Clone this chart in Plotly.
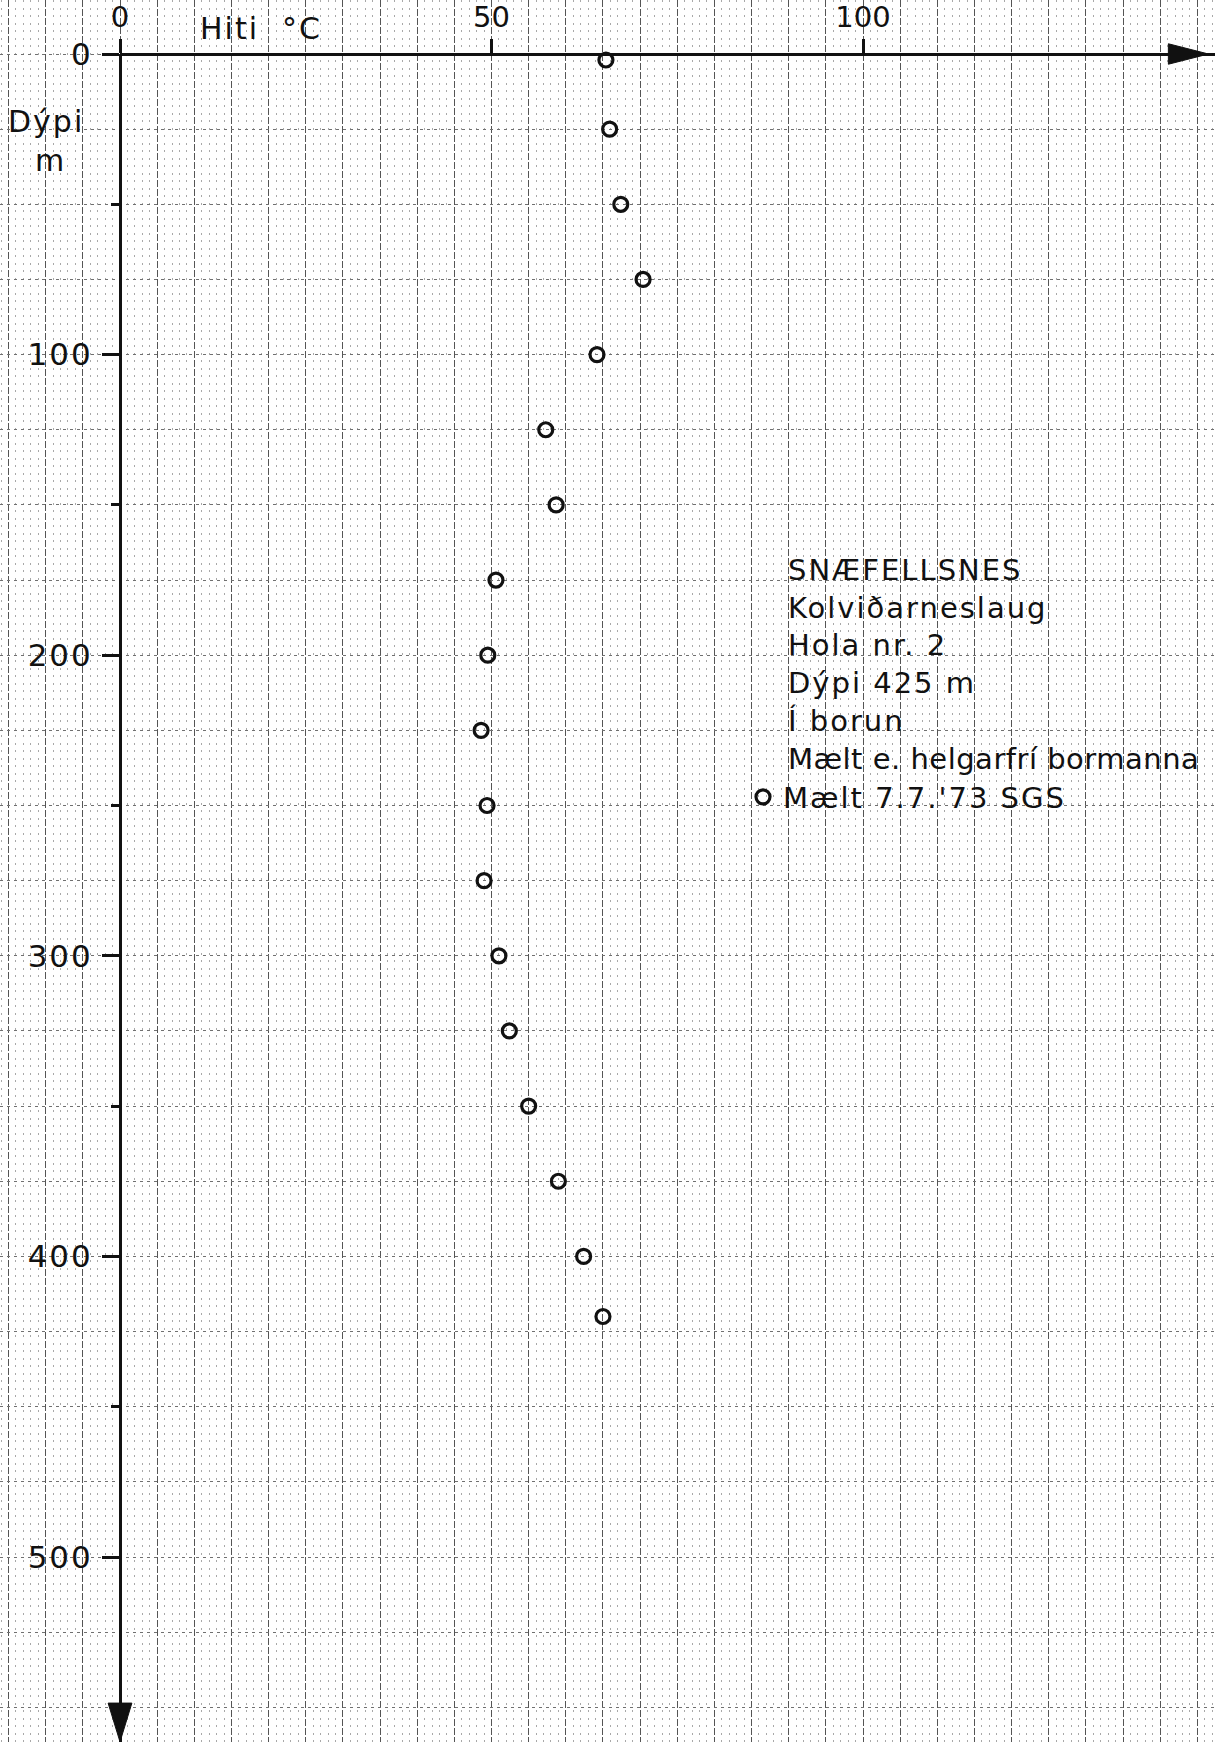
import plotly.graph_objects as go

# ---- data ----
depth_m = [2, 25, 50, 75, 100, 125, 150, 175, 200, 225, 250, 275, 300, 325, 350, 375, 400, 420]
temp_c = [65.4, 65.9, 67.4, 70.4, 64.2, 57.3, 58.7, 50.6, 49.5, 48.6, 49.4, 49.0,
          51.0, 52.4, 55.0, 59.0, 62.4, 65.0]
x_tick_vals = [0, 50, 100]
x_tick_text = ["0", "50", "100"]
y_tick_vals = [0, 100, 200, 300, 400, 500]
y_tick_text = ["0", "100", "200", "300", "400", "500"]
info_lines = ["SNÆFELLSNES", "Kolviðarneslaug", "Hola nr. 2", "Dýpi 425 m",
              "Í borun", "Mælt e. helgarfrí bormanna"]
series_name = "Mælt 7.7.'73 SGS"
x_title = "Hiti  °C"
y_title_1 = "Dýpi"
y_title_2 = "m"

# ---- layout geometry ----
W, H = 1215, 1742
X0_PX, Y0_PX = 120, 54          # pixel position of the origin
PX_PER_C = 7.43
PX_PER_M = 3.006
x_full = [-X0_PX / PX_PER_C, (W - X0_PX) / PX_PER_C]
y_full = [(H - Y0_PX) / PX_PER_M, -Y0_PX / PX_PER_M]

FONT = "DejaVu Sans"
INK = "#111111"


def spaced(s, px=2):
    return f'<span style="letter-spacing:{px}px">{s}</span>'


fig = go.Figure()

# background subplot (graph paper)
fig.add_trace(go.Scatter(x=[], y=[], xaxis="x", yaxis="y", showlegend=False,
                         hoverinfo="skip"))

# measurements
fig.add_trace(go.Scatter(
    x=temp_c, y=depth_m, xaxis="x2", yaxis="y2", mode="markers",
    name=spaced(series_name),
    marker=dict(symbol="circle-open", size=14, color=INK, line=dict(width=3.2, color=INK)),
    cliponaxis=False,
))

fig.update_layout(
    width=W, height=H, autosize=False,
    margin=dict(l=0, r=0, t=0, b=0, pad=0, autoexpand=False),
    paper_bgcolor="white", plot_bgcolor="rgba(0,0,0,0)",
    font=dict(family=FONT, size=30, color=INK),
    xaxis=dict(domain=[0, 1], range=x_full, anchor="y", showticklabels=False,
               ticks="", zeroline=False, showline=False, automargin=False,
               showgrid=True, tick0=0, dtick=5, gridcolor="#555555", gridwidth=1.4,
               griddash="7px,2px",
               minor=dict(showgrid=True, tick0=0, dtick=1, gridcolor="#a8a8a8",
                          gridwidth=1, griddash="2px,5.5px")),
    yaxis=dict(domain=[0, 1], range=y_full, anchor="x", showticklabels=False,
               ticks="", zeroline=False, showline=False, automargin=False,
               showgrid=True, tick0=0, dtick=25, gridcolor="#707070", gridwidth=1.4,
               griddash="3px,4px"),
    xaxis2=dict(domain=[X0_PX / W, 1], range=[0, x_full[1]], anchor="free",
                position=1 - Y0_PX / H, side="top", showgrid=False, zeroline=False,
                automargin=False,
                showline=True, linewidth=3, linecolor=INK,
                ticks="outside", ticklen=14, tickwidth=3, tickcolor=INK,
                tickvals=x_tick_vals, ticktext=x_tick_text,
                ticklabelstandoff=0,
                tickfont=dict(family=FONT, size=29, color=INK)),
    yaxis2=dict(domain=[0, 1 - Y0_PX / H], range=[y_full[0], 0], anchor="free",
                position=X0_PX / W, side="left", showgrid=False, zeroline=False,
                automargin=False,
                showline=True, linewidth=3, linecolor=INK,
                ticks="outside", ticklen=17, tickwidth=3, tickcolor=INK,
                tickvals=y_tick_vals, ticktext=[spaced(t) for t in y_tick_text],
                ticklabelstandoff=3,
                tickfont=dict(family=FONT, size=31, color=INK),
                minor=dict(ticks="outside", tick0=0, dtick=50, ticklen=8,
                           tickwidth=3, tickcolor=INK, showgrid=False)),
    showlegend=True,
    legend=dict(x=743 / W, y=1 - 797 / H, xanchor="left", yanchor="middle",
                bgcolor="rgba(0,0,0,0)", borderwidth=0,
                font=dict(family=FONT, size=29, color=INK)),
)

# arrow heads on the axes
fig.add_shape(type="path", xref="x", yref="y",
              path="M 141.1,-3.4 L 146.5,0 L 141.1,3.4 Z",
              fillcolor=INK, line=dict(color=INK, width=1))
fig.add_shape(type="path", xref="x", yref="y",
              path="M -1.6,548.6 L 0,561.5 L 1.6,548.6 Z",
              fillcolor=INK, line=dict(color=INK, width=1))

# axis titles
fig.add_annotation(text=spaced(x_title), xref="paper", yref="paper", x=261 / W, y=1 - 28 / H,
                   showarrow=False, xanchor="center", yanchor="middle",
                   font=dict(family=FONT, size=30, color=INK))
fig.add_annotation(text=spaced(y_title_1), xref="paper", yref="paper", x=46 / W, y=1 - 122 / H,
                   showarrow=False, xanchor="center", yanchor="middle",
                   font=dict(family=FONT, size=30, color=INK))
fig.add_annotation(text=y_title_2, xref="paper", yref="paper", x=49 / W, y=1 - 160 / H,
                   showarrow=False, xanchor="center", yanchor="middle",
                   font=dict(family=FONT, size=30, color=INK))

# info block (last line kept unspaced so it fits inside the page)
block = [spaced(s) for s in info_lines[:-1]] + [spaced(info_lines[-1], 0.5)]
fig.add_annotation(text="<br>".join(block), xref="paper", yref="paper",
                   x=786 / W, y=1 - 664.5 / H, showarrow=False, align="left",
                   xanchor="left", yanchor="middle",
                   font=dict(family=FONT, size=29, color=INK))

fig.write_html("out.html", config={"displayModeBar": False},
               post_script="document.body.style.margin='0px';")
